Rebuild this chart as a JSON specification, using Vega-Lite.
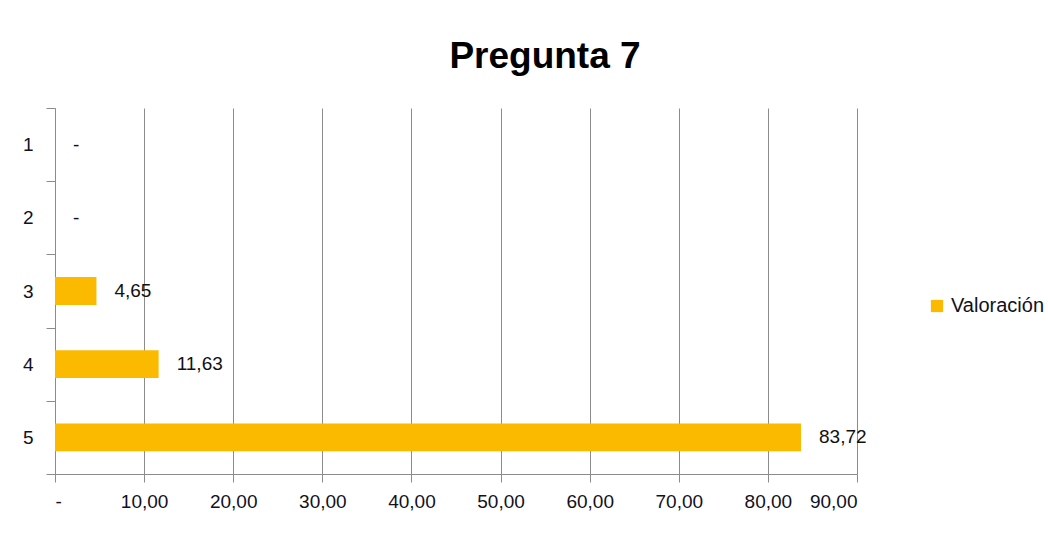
{
  "$schema": "https://vega.github.io/schema/vega-lite/v6.json",
  "width": 802,
  "height": 366,
  "autosize": "none",
  "padding": {"left": 55, "top": 108, "right": 191, "bottom": 60},
  "background": "white",
  "title": {
    "text": "Pregunta 7",
    "font": "Liberation Sans",
    "fontSize": 37,
    "fontWeight": "bold",
    "color": "#000000",
    "anchor": "middle",
    "frame": "group",
    "dx": 89,
    "offset": 23
  },
  "data": {
    "values": [
      {"respuesta": "1", "valor": 0, "etiqueta": "-", "serie": "Valoración"},
      {"respuesta": "2", "valor": 0, "etiqueta": "-", "serie": "Valoración"},
      {"respuesta": "3", "valor": 4.65, "etiqueta": "4,65", "serie": "Valoración"},
      {"respuesta": "4", "valor": 11.63, "etiqueta": "11,63", "serie": "Valoración"},
      {"respuesta": "5", "valor": 83.72, "etiqueta": "83,72", "serie": "Valoración"}
    ]
  },
  "encoding": {
    "y": {
      "field": "respuesta",
      "type": "nominal",
      "sort": ["1", "2", "3", "4", "5"],
      "scale": {"paddingInner": 0, "paddingOuter": 0},
      "axis": {
        "title": null,
        "labelAngle": 0,
        "tickBand": "extent",
        "tickSize": 9,
        "tickColor": "#8c8c8c",
        "domain": true,
        "domainColor": "#8c8c8c",
        "grid": false,
        "labelPadding": 13,
        "labelFont": "Liberation Sans",
        "labelFontSize": 19,
        "labelColor": "#111122"
      }
    },
    "x": {
      "field": "valor",
      "type": "quantitative",
      "scale": {"domain": [0, 90], "nice": false},
      "axis": {
        "title": null,
        "values": [0, 10, 20, 30, 40, 50, 60, 70, 80, 90],
        "labelExpr": "datum.value == 0 ? '-' : replace(format(datum.value, '.2f'), '.', ',')",
        "grid": true,
        "gridColor": "#8c8c8c",
        "gridOpacity": 1,
        "domainColor": "#8c8c8c",
        "tickColor": "#8c8c8c",
        "tickSize": 8,
        "labelPadding": 10,
        "labelFont": "Liberation Sans",
        "labelFontSize": 19,
        "labelColor": "#111122"
      }
    }
  },
  "layer": [
    {
      "mark": {"type": "bar", "height": {"band": 0.38}},
      "encoding": {
        "color": {
          "field": "serie",
          "type": "nominal",
          "scale": {"range": ["#FBBA00"]},
          "legend": {
            "title": null,
            "orient": "none",
            "legendX": 872,
            "legendY": 188,
            "symbolType": "square",
            "symbolSize": 150,
            "symbolStrokeWidth": 0,
            "labelFont": "Liberation Sans",
            "labelFontSize": 20,
            "labelColor": "#111122"
          }
        }
      }
    },
    {
      "mark": {
        "type": "text",
        "align": "left",
        "baseline": "middle",
        "dx": 18,
        "font": "Liberation Sans",
        "fontSize": 19,
        "color": "#111111"
      },
      "encoding": {
        "text": {"field": "etiqueta"}
      }
    }
  ],
  "config": {
    "view": {"stroke": null}
  }
}
